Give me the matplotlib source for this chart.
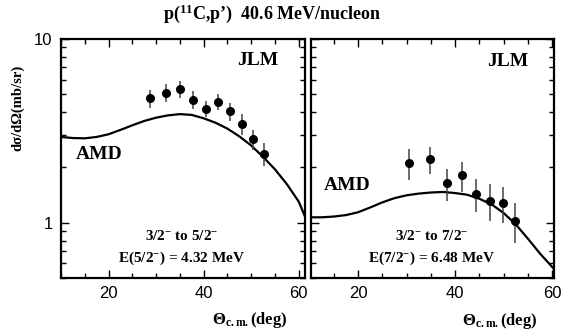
import numpy as np
import matplotlib
matplotlib.use('Agg')
import matplotlib.pyplot as plt
from matplotlib.ticker import MultipleLocator, LogLocator, NullFormatter, FixedFormatter, FixedLocator

plt.rcParams['font.family'] = ['Liberation Sans', 'DejaVu Sans']
plt.rcParams['mathtext.fontset'] = 'custom'
plt.rcParams['mathtext.rm'] = 'Liberation Serif:bold'
plt.rcParams['mathtext.it'] = 'Liberation Serif:bold'
plt.rcParams['mathtext.bf'] = 'Liberation Serif:bold'

# 3/2- -> 5/2- (left panel)
ang_52 = [28.7, 32.1, 35.1, 37.8, 40.5, 43.0, 45.6, 48.0, 50.3, 52.7]
xs_52 = [4.76, 5.11, 5.33, 4.68, 4.18, 4.56, 4.05, 3.45, 2.85, 2.37]
err_52 = [0.55, 0.56, 0.58, 0.51, 0.42, 0.46, 0.46, 0.44, 0.36, 0.34]
amd_ang_52 = [10, 12.5, 15, 17.5, 20, 22.5, 25, 27.5, 30, 32.5, 35, 37.5, 40,
              42.5, 45, 47.5, 50, 52.5, 55, 57.5, 60, 61.3]
amd_52 = [2.93, 2.89, 2.88, 2.93, 3.03, 3.20, 3.39, 3.58, 3.73, 3.84, 3.90, 3.86,
          3.70, 3.50, 3.25, 2.95, 2.63, 2.28, 1.95, 1.62, 1.30, 1.08]

# 3/2- -> 7/2- (right panel)
ang_72 = [30.6, 34.8, 38.4, 41.4, 44.4, 47.2, 49.8, 52.4]
xs_72 = [2.11, 2.21, 1.64, 1.81, 1.44, 1.32, 1.28, 1.025]
err_72 = [0.40, 0.36, 0.33, 0.34, 0.29, 0.30, 0.28, 0.25]
amd_ang_72 = [10, 12.5, 15, 17.5, 20, 22.5, 25, 27.5, 30, 32.5, 35, 37.5, 40,
              42.5, 45, 47.5, 50, 52.5, 55, 57.5, 60.4]
amd_72 = [1.07, 1.07, 1.08, 1.10, 1.14, 1.21, 1.29, 1.36, 1.41, 1.44, 1.46, 1.47,
          1.45, 1.42, 1.35, 1.26, 1.13, 0.98, 0.82, 0.68, 0.56]

serif = ['Liberation Serif', 'DejaVu Serif']

fig = plt.figure(figsize=(5.62, 3.32), dpi=100)
ax1 = fig.add_axes([61 / 562, 1 - 278 / 332, 244 / 562, 239 / 332])
ax2 = fig.add_axes([311 / 562, 1 - 278 / 332, 243 / 562, 239 / 332])


def style_panel(ax, xlim, ylabels):
    ax.set_yscale('log')
    ax.set_ylim(0.5, 10)
    ax.set_xlim(*xlim)
    ax.xaxis.set_major_locator(FixedLocator([20, 40, 60]))
    ax.xaxis.set_minor_locator(MultipleLocator(5))
    ax.yaxis.set_major_locator(FixedLocator([1, 10]))
    ax.yaxis.set_minor_locator(LogLocator(base=10, subs=np.arange(2, 10)))
    ax.yaxis.set_minor_formatter(NullFormatter())
    if ylabels:
        ax.yaxis.set_major_formatter(FixedFormatter(['1', '10']))
    else:
        ax.yaxis.set_major_formatter(NullFormatter())
    ax.tick_params(which='both', direction='in', top=True, right=True,
                   labelsize=12, width=1.0)
    ax.tick_params(which='major', length=6, pad=6)
    ax.tick_params(which='minor', length=3.5)
    for s in ax.spines.values():
        s.set_linewidth(1.6)


def draw(ax, ang, xs, err, amd_ang, amd):
    ax.plot(amd_ang, amd, color='black', lw=1.6, clip_on=True)
    ax.errorbar(ang, xs, yerr=err, fmt='o', color='black', ms=5.5,
                ecolor='#444444', elinewidth=1.1, capsize=0)


style_panel(ax1, (10, 61.3), True)
style_panel(ax2, (10.3, 60.4), False)
draw(ax1, ang_52, xs_52, err_52, amd_ang_52, amd_52)
draw(ax2, ang_72, xs_72, err_72, amd_ang_72, amd_72)

bold = dict(family=serif, fontweight='bold', ha='center', va='center')
ax1.text(0.807, 0.91, 'JLM', transform=ax1.transAxes, fontsize=14, **bold)
ax2.text(0.809, 0.904, 'JLM', transform=ax2.transAxes, fontsize=14, **bold)
ax1.text(0.155, 0.516, 'AMD', transform=ax1.transAxes, fontsize=14, **bold)
ax2.text(0.148, 0.385, 'AMD', transform=ax2.transAxes, fontsize=14, **bold)

ax1.text(0.496, 0.175, r'$3/2^{-}$ to $5/2^{-}$', transform=ax1.transAxes, fontsize=11, **bold)
ax1.text(0.495, 0.082, r'E($5/2^{-}$) = 4.32 MeV', transform=ax1.transAxes, fontsize=11, **bold)
ax2.text(0.497, 0.175, r'$3/2^{-}$ to $7/2^{-}$', transform=ax2.transAxes, fontsize=11, **bold)
ax2.text(0.495, 0.082, r'E($7/2^{-}$) = 6.48 MeV', transform=ax2.transAxes, fontsize=11, **bold)

fig.text(0.485, 0.958, r'p($^{11}$C,p’)  40.6 MeV/nucleon', fontsize=13, **bold)
fig.text(0.032, 0.675, 'dσ/dΩ(mb/sr)', fontsize=10.5, rotation=90, **bold)
fig.text(0.445, 0.035, r'Θ$_{\rm c.m.}$(deg)', fontsize=12, **bold)
fig.text(0.89, 0.032, r'Θ$_{\rm c.m.}$(deg)', fontsize=12, **bold)

fig.savefig('out.png', dpi=100)
